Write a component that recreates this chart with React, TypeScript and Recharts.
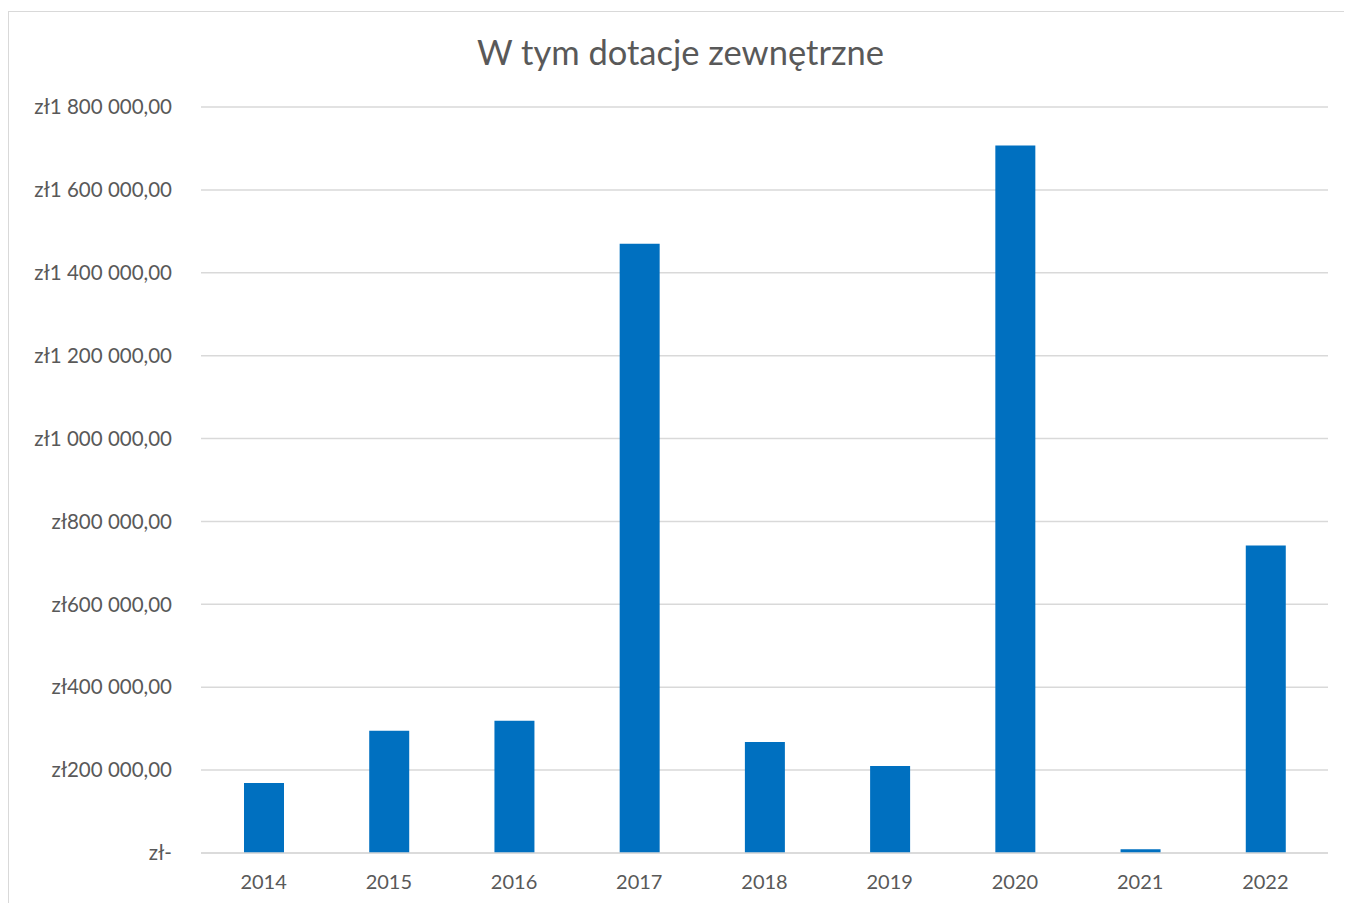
import React from "react";
import { BarChart, Bar, XAxis, YAxis, CartesianGrid } from "recharts";

const years = ["2014", "2015", "2016", "2017", "2018", "2019", "2020", "2021", "2022"];
const grants = [169000, 295000, 319000, 1470000, 268000, 210000, 1707000, 9000, 742000];
const yTicks = [0, 200000, 400000, 600000, 800000, 1000000, 1200000, 1400000, 1600000, 1800000];

const data = years.map((year, i) => ({ year, value: grants[i] }));

const fmt = (v: number) => {
    if (v === 0) return "zł-";
    const s = Math.round(v).toString().replace(/\B(?=(\d{3})+(?!\d))/g, " ");
    return `zł${s},00`;
};

const font = "Lato, 'Open Sans', sans-serif";

export default function App() {
    return (
        <div
            style={{
                position: "relative",
                width: 1356,
                height: 892,
                marginTop: 3,
                marginLeft: -1,
                border: "1px solid #d9d9d9",
                borderLeftWidth: 2,
                background: "#fff",
                fontFamily: font,
            }}
        >
            <div
                style={{
                    position: "absolute",
                    top: 19,
                    left: 0,
                    width: 1343,
                    textAlign: "center",
                    fontSize: 34.5,
                    color: "#595959",
                }}
            >
                W tym dotacje zewnętrzne
            </div>
            <BarChart
                width={1343}
                height={892}
                data={data}
                margin={{ top: 95, right: 24, left: -1, bottom: 0 }}
            >
                <CartesianGrid vertical={false} stroke="#d9d9d9" strokeWidth={1.5} />
                <XAxis
                    dataKey="year"
                    height={51}
                    tickLine={false}
                    tickSize={0}
                    tickMargin={22}
                    axisLine={{ stroke: "#d9d9d9", strokeWidth: 1.5 }}
                    tick={{ fill: "#595959", fontSize: 20, fontFamily: font }}
                />
                <YAxis
                    width={193}
                    domain={[0, 1800000]}
                    ticks={yTicks}
                    interval={0}
                    axisLine={false}
                    tickLine={false}
                    tickSize={0}
                    tickMargin={29}
                    tickFormatter={fmt}
                    tick={{ fill: "#595959", fontSize: 20.5, fontFamily: font }}
                />
                <Bar dataKey="value" fill="#0070C0" barSize={40} isAnimationActive={false} />
            </BarChart>
        </div>
    );
}
